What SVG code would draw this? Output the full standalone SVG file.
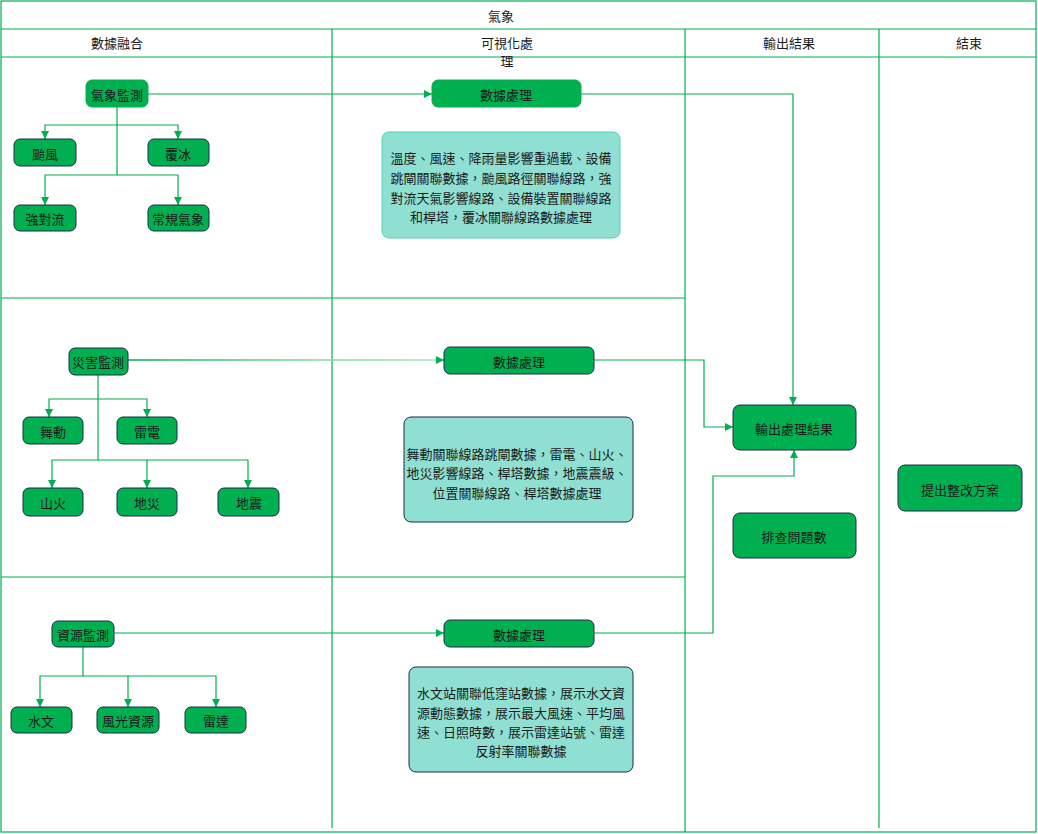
<svg xmlns="http://www.w3.org/2000/svg" width="1038" height="834" viewBox="0 0 1038 834">
<style>
.lane{fill:none;stroke:#00b050;stroke-width:1.2}
.n{fill:#00b050;stroke:#1c2a48;stroke-width:1}
.n2{fill:#00b050;stroke:#00b050;stroke-width:1}
.tb{fill:#8fe0d3;stroke:#1c2a48;stroke-width:1}
.tb1{fill:#8fe0d3;stroke:#4fd4b4;stroke-width:1}
text{font-family:"Noto Sans CJK TC","Noto Sans CJK SC",sans-serif;font-size:13px;fill:#1a1a1a;text-anchor:middle;dominant-baseline:central}
.c{fill:none;stroke:#00b050;stroke-width:1.2}
</style>
<defs>
<marker id="ah" viewBox="0 0 10 10" refX="10" refY="5" markerWidth="8" markerHeight="8" markerUnits="userSpaceOnUse" orient="auto">
<path d="M0,0 L10,5 L0,10 z" fill="#00b050"/>
</marker>
<linearGradient id="fade" gradientUnits="userSpaceOnUse" x1="128" y1="0" x2="444" y2="0">
<stop offset="0" stop-color="#00b050"/>
<stop offset="0.6" stop-color="#80d8a4"/>
<stop offset="1" stop-color="#a6e4c0"/>
</linearGradient>
</defs>
<rect width="1038" height="834" fill="#ffffff"/>
<g id="lanes">
<rect class="lane" x="1" y="1" width="1035" height="831"/>
<line class="lane" x1="1" y1="29" x2="1036" y2="29"/>
<line class="lane" x1="1" y1="57" x2="1036" y2="57"/>
<line class="lane" x1="332" y1="29" x2="332" y2="828"/>
<line class="lane" x1="685" y1="29" x2="685" y2="832"/>
<line class="lane" x1="879" y1="29" x2="879" y2="828"/>
<line class="lane" x1="1" y1="298" x2="685" y2="298"/>
<line class="lane" x1="1" y1="577" x2="685" y2="577"/>
<text x="501" y="15">氣象</text>
<text x="117" y="42">數據融合</text>
<text x="507" y="42">可視化處</text>
<text x="507" y="60">理</text>
<text x="789" y="42">輸出結果</text>
<text x="969" y="42">結束</text>
</g>
<g id="connectors">
<path class="c" d="M117,107 V125 H45 V139" marker-end="url(#ah)"/>
<path class="c" d="M117,125 H178 V139" marker-end="url(#ah)"/>
<path class="c" d="M117,125 V175 H45 V205" marker-end="url(#ah)"/>
<path class="c" d="M117,175 H178 V205" marker-end="url(#ah)"/>
<path class="c" d="M148,94 H432" marker-end="url(#ah)"/>
<path class="c" d="M581,94 H793 V405" marker-end="url(#ah)"/>
<path class="c" d="M98,375 V399 H49 V417" marker-end="url(#ah)"/>
<path class="c" d="M98,399 H147 V417" marker-end="url(#ah)"/>
<path class="c" d="M98,399 V460 H52 V488" marker-end="url(#ah)"/>
<path class="c" d="M98,460 H147 V488" marker-end="url(#ah)"/>
<path class="c" d="M147,460 H248 V488" marker-end="url(#ah)"/>
<path fill="none" stroke="url(#fade)" stroke-width="1.5" d="M128,360 H437"/>
<path class="c" d="M436,360 H444" marker-end="url(#ah)"/>
<path class="c" d="M594,360 H704 V427 H733" marker-end="url(#ah)"/>
<path class="c" d="M83,647 V676 H40 V707" marker-end="url(#ah)"/>
<path class="c" d="M83,676 H128 V707" marker-end="url(#ah)"/>
<path class="c" d="M128,676 H216 V707" marker-end="url(#ah)"/>
<path class="c" d="M114,633 H444" marker-end="url(#ah)"/>
<path class="c" d="M594,633 H713 V476 H794 V450" marker-end="url(#ah)"/>
</g>
<g id="n-qxjc"><rect class="n2" x="86" y="80" width="62" height="27" rx="6"/><text x="117" y="94">氣象監測</text></g>
<g id="n-tf"><rect class="n" x="14" y="139" width="62" height="27" rx="6"/><text x="45" y="153">颱風</text></g>
<g id="n-fb"><rect class="n" x="148" y="139" width="61" height="27" rx="6"/><text x="178" y="153">覆冰</text></g>
<g id="n-qdl"><rect class="n" x="14" y="205" width="62" height="26" rx="6"/><text x="45" y="218">強對流</text></g>
<g id="n-cgqx"><rect class="n" x="148" y="205" width="61" height="26" rx="6"/><text x="178" y="218">常規氣象</text></g>
<g id="n-sjcl1"><rect class="n2" x="432" y="80" width="149" height="27" rx="6"/><text x="506" y="94">數據處理</text></g>
<g id="n-tb1"><rect class="tb1" x="382" y="132" width="238" height="106" rx="7"/>
<text x="501" y="157">溫度、風速、降雨量影響重過載、設備</text>
<text x="501" y="177">跳閘關聯數據，颱風路徑關聯線路，強</text>
<text x="501" y="197">對流天氣影響線路、設備裝置關聯線路</text>
<text x="501" y="216">和桿塔，覆冰關聯線路數據處理</text></g>
<g id="n-zhjc"><rect class="n" x="69" y="348" width="59" height="27" rx="6"/><text x="98" y="361">災害監測</text></g>
<g id="n-wd"><rect class="n" x="23" y="417" width="60" height="27" rx="6"/><text x="53" y="431">舞動</text></g>
<g id="n-ld"><rect class="n" x="117" y="417" width="60" height="27" rx="6"/><text x="147" y="431">雷電</text></g>
<g id="n-sh"><rect class="n" x="23" y="488" width="60" height="28" rx="6"/><text x="53" y="502">山火</text></g>
<g id="n-dz1"><rect class="n" x="117" y="488" width="60" height="28" rx="6"/><text x="147" y="502">地災</text></g>
<g id="n-dz2"><rect class="n" x="218" y="488" width="61" height="28" rx="6"/><text x="249" y="502">地震</text></g>
<g id="n-sjcl2"><rect class="n" x="444" y="347" width="150" height="27" rx="6"/><text x="519" y="361">數據處理</text></g>
<g id="n-tb2"><rect class="tb" x="404" y="417" width="229" height="105" rx="7"/>
<text x="517" y="453">舞動關聯線路跳閘數據，雷電、山火、</text>
<text x="517" y="472">地災影響線路、桿塔數據，地震震級、</text>
<text x="517" y="492">位置關聯線路、桿塔數據處理</text></g>
<g id="n-zyjc"><rect class="n" x="52" y="621" width="62" height="26" rx="6"/><text x="83" y="634">資源監測</text></g>
<g id="n-sw"><rect class="n" x="11" y="707" width="61" height="26" rx="6"/><text x="41" y="720">水文</text></g>
<g id="n-fgzy"><rect class="n" x="97" y="707" width="62" height="26" rx="6"/><text x="128" y="720">風光資源</text></g>
<g id="n-ld2"><rect class="n" x="185" y="707" width="61" height="26" rx="6"/><text x="216" y="720">雷達</text></g>
<g id="n-sjcl3"><rect class="n" x="444" y="620" width="150" height="27" rx="6"/><text x="519" y="634">數據處理</text></g>
<g id="n-tb3"><rect class="tb" x="409" y="667" width="224" height="105" rx="7"/>
<text x="521" y="692">水文站關聯低窪站數據，展示水文資</text>
<text x="521" y="712">源動態數據，展示最大風速、平均風</text>
<text x="521" y="731">速、日照時數，展示雷達站號、雷達</text>
<text x="521" y="750">反射率關聯數據</text></g>
<g id="n-sccljg"><rect class="n" x="733" y="405" width="123" height="45" rx="7"/><text x="794" y="428">輸出處理結果</text></g>
<g id="n-pcwts"><rect class="n" x="733" y="513" width="123" height="45" rx="7"/><text x="794" y="536">排查問題數</text></g>
<g id="n-tczgfa"><rect class="n" x="898" y="465" width="124" height="46" rx="7"/><text x="960" y="489">提出整改方案</text></g>
</svg>
